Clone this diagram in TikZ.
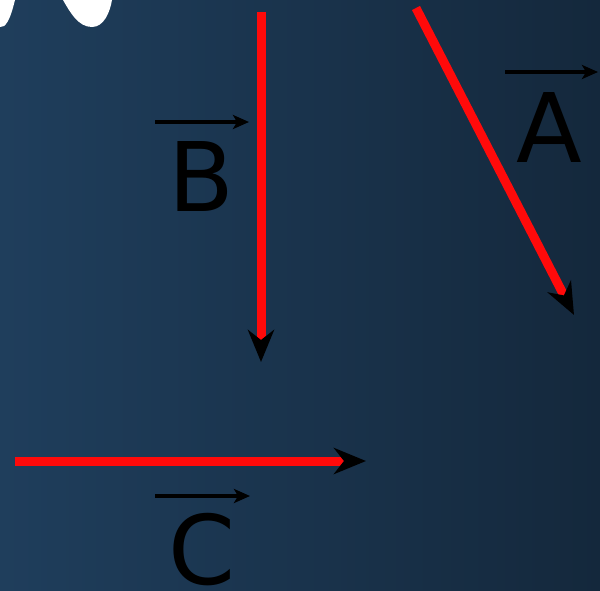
\documentclass[tikz,border=0pt]{standalone}
\usepackage{fontspec}
\setmainfont{DejaVu Sans}
\usetikzlibrary{arrows.meta}
\definecolor{bgleft}{RGB}{31,62,92}
\definecolor{bgright}{RGB}{20,40,60}
\definecolor{vecred}{RGB}{255,10,10}
\tikzset{
  vec/.style={draw=vecred, line width=4.5pt, -{Stealth[length=16pt,width=13pt,inset=5pt,black]}},
  overvec/.style={draw=black, line width=2pt, -{Stealth[length=8pt,width=7pt,inset=2pt,black]}},
  letter/.style={anchor=base, inner sep=0pt, text=black, font=\fontsize{48}{48}\selectfont},
}
\begin{document}
\begin{tikzpicture}[x=0.5pt,y=-0.5pt]
\useasboundingbox (0,0) rectangle (600,590);
\shade[left color=bgleft, right color=bgright] (0,0) rectangle (600,590);
% white blobs at top left
\fill[white] (0,0) -- (15,0) .. controls (12,12) and (9,22) .. (4,26) -- (0,27) -- cycle;
\fill[white] (63,0) .. controls (70,12) and (78,27) .. (92,27) .. controls (104,27) and (110,12) .. (112,0) -- cycle;
% vector B
\coordinate (b1) at (261,12);
\coordinate (b2) at (261,362);
\draw[vec] (b1) -- (b2);
% vector A
\coordinate (a1) at (416,8);
\coordinate (a2) at (574,315);
\draw[vec] (a1) -- (a2);
% vector C
\coordinate (c1) at (15,461);
\coordinate (c2) at (366,461);
\draw[vec] (c1) -- (c2);
% labels
\node[letter] (A) at (549.5,162) {A};
\node[letter] (B) at (201,211) {B};
\node[letter] (C) at (202,584) {C};
\coordinate (oa1) at (505,72);
\coordinate (oa2) at (598,72);
\coordinate (ob1) at (155,122);
\coordinate (ob2) at (249,122);
\coordinate (oc1) at (155,496);
\coordinate (oc2) at (250,496);
\draw[overvec] (oa1) -- (oa2);
\draw[overvec] (ob1) -- (ob2);
\draw[overvec] (oc1) -- (oc2);
\end{tikzpicture}
\end{document}
